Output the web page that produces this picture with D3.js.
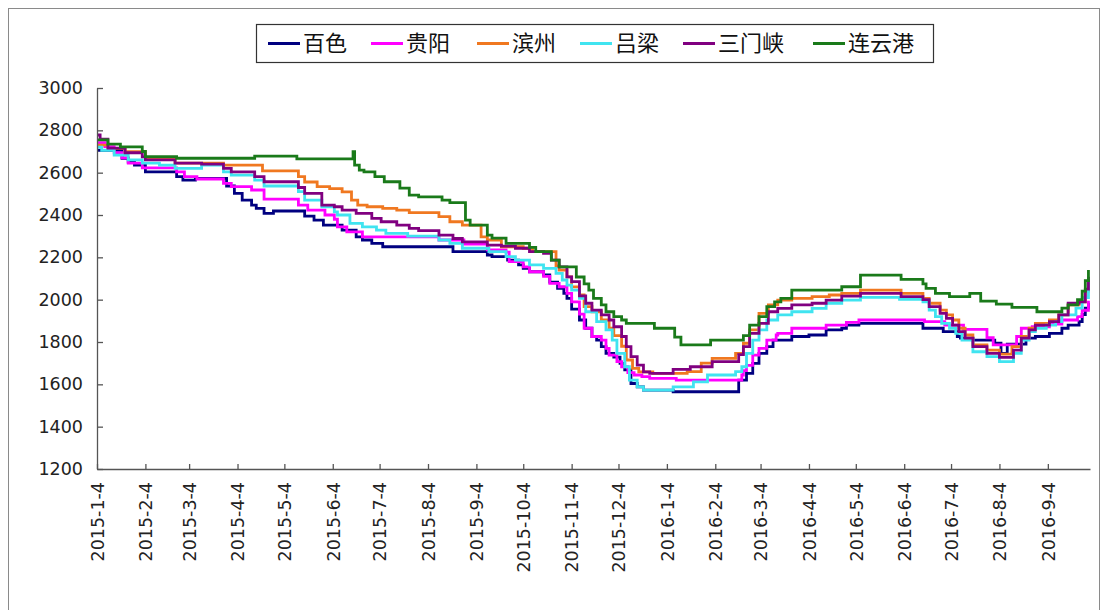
<!DOCTYPE html>
<html><head><meta charset="utf-8">
<script src="https://cdn.jsdelivr.net/npm/d3@7"></script>
<style>
body{margin:0;background:#fff}
svg{display:block}
.tick text{font-family:"DejaVu Sans",sans-serif;font-size:17.5px;fill:#222}
.legend text{font-family:"Noto Sans CJK SC",sans-serif;font-size:22px;fill:#111}
</style>
</head><body>
<svg id="chart" width="1108" height="610"></svg>
<script>
// ---- data ----
const seriesNames = ["百色","贵阳","滨州","吕梁","三门峡","连云港"];
const seriesColors = ["#000080","#FF00FF","#F07820","#40E4F0","#800080","#1A7A1A"];
const yTicks = [1200,1400,1600,1800,2000,2200,2400,2600,2800,3000];
const xTickLabels = ["2015-1-4","2015-2-4","2015-3-4","2015-4-4","2015-5-4","2015-6-4","2015-7-4","2015-8-4","2015-9-4","2015-10-4","2015-11-4","2015-12-4","2016-1-4","2016-2-4","2016-3-4","2016-4-4","2016-5-4","2016-6-4","2016-7-4","2016-8-4","2016-9-4"];
const xDomain = ["2015-01-04","2016-10-01"];

const baise = [["2015-01-04",2705],["2015-01-20",2668],["2015-01-24",2650],["2015-01-28",2636],["2015-02-04",2604],["2015-02-24",2581],["2015-02-28",2565],["2015-03-08",2573],["2015-03-28",2537],["2015-04-02",2502],["2015-04-07",2470],["2015-04-13",2447],["2015-04-16",2431],["2015-04-21",2408],["2015-04-27",2419],["2015-05-17",2395],["2015-05-23",2376],["2015-05-29",2352],["2015-06-10",2329],["2015-06-19",2297],["2015-06-23",2282],["2015-06-29",2266],["2015-07-06",2250],["2015-08-20",2227],["2015-09-11",2211],["2015-09-14",2203],["2015-09-24",2187],["2015-10-01",2164],["2015-10-04",2148],["2015-10-08",2132],["2015-10-17",2117],["2015-10-21",2083],["2015-10-26",2053],["2015-10-30",2030],["2015-11-01",2006],["2015-11-04",1955],["2015-11-09",1904],["2015-11-13",1865],["2015-11-17",1826],["2015-11-20",1809],["2015-11-23",1778],["2015-11-26",1746],["2015-12-01",1729],["2015-12-05",1699],["2015-12-08",1668],["2015-12-12",1604],["2015-12-16",1588],["2015-12-20",1573],["2016-01-08",1565],["2016-02-19",1620],["2016-02-24",1652],["2016-02-28",1699],["2016-03-03",1746],["2016-03-08",1778],["2016-03-12",1809],["2016-03-24",1826],["2016-04-04",1833],["2016-04-15",1857],["2016-04-25",1865],["2016-04-28",1880],["2016-05-06",1888],["2016-06-16",1865],["2016-06-29",1849],["2016-07-08",1826],["2016-07-10",1818],["2016-07-18",1809],["2016-08-01",1794],["2016-08-05",1746],["2016-08-09",1790],["2016-08-21",1818],["2016-08-27",1826],["2016-09-05",1841],["2016-09-13",1865],["2016-09-17",1880],["2016-09-24",1896],["2016-09-26",1930],["2016-09-28",1960],["2016-09-30",1985]];

const guiyang = [["2015-01-04",2742],["2015-01-09",2723],["2015-01-15",2694],["2015-01-20",2670],["2015-01-24",2645],["2015-02-02",2623],["2015-02-24",2604],["2015-03-01",2581],["2015-03-09",2570],["2015-03-26",2549],["2015-03-31",2534],["2015-04-13",2518],["2015-04-21",2475],["2015-05-13",2447],["2015-05-19",2423],["2015-05-30",2400],["2015-06-05",2380],["2015-06-07",2344],["2015-06-13",2320],["2015-06-23",2297],["2015-08-11",2282],["2015-08-27",2262],["2015-09-11",2235],["2015-09-23",2225],["2015-09-25",2180],["2015-10-04",2155],["2015-10-08",2132],["2015-10-17",2110],["2015-10-21",2077],["2015-10-27",2061],["2015-11-01",2030],["2015-11-04",1990],["2015-11-09",1932],["2015-11-12",1865],["2015-11-17",1826],["2015-11-23",1809],["2015-11-26",1770],["2015-11-28",1738],["2015-12-03",1707],["2015-12-06",1683],["2015-12-10",1655],["2015-12-14",1644],["2015-12-19",1636],["2015-12-24",1628],["2016-01-10",1620],["2016-02-21",1644],["2016-02-22",1665],["2016-02-24",1690],["2016-02-28",1738],["2016-03-03",1770],["2016-03-08",1809],["2016-03-14",1833],["2016-03-15",1841],["2016-03-24",1865],["2016-04-15",1880],["2016-04-28",1893],["2016-05-06",1904],["2016-06-17",1896],["2016-06-30",1880],["2016-07-12",1860],["2016-07-27",1820],["2016-07-31",1786],["2016-08-15",1826],["2016-08-18",1865],["2016-08-25",1872],["2016-09-05",1885],["2016-09-13",1904],["2016-09-23",1920],["2016-09-26",1950],["2016-09-30",1995]];

const binzhou = [["2015-01-04",2730],["2015-01-11",2715],["2015-01-22",2699],["2015-02-04",2668],["2015-02-23",2645],["2015-03-26",2636],["2015-04-20",2608],["2015-05-13",2581],["2015-05-17",2556],["2015-05-25",2534],["2015-06-02",2525],["2015-06-10",2509],["2015-06-16",2470],["2015-06-20",2447],["2015-06-26",2439],["2015-07-06",2431],["2015-07-15",2423],["2015-07-23",2411],["2015-08-11",2392],["2015-08-18",2368],["2015-08-26",2352],["2015-09-07",2297],["2015-09-11",2282],["2015-09-20",2250],["2015-10-04",2243],["2015-10-10",2227],["2015-10-25",2160],["2015-10-27",2140],["2015-11-01",2108],["2015-11-04",2060],["2015-11-09",2022],["2015-11-12",1967],["2015-11-17",1943],["2015-11-23",1904],["2015-11-28",1865],["2015-12-01",1830],["2015-12-06",1780],["2015-12-09",1715],["2015-12-13",1675],["2015-12-17",1659],["2015-12-26",1652],["2016-01-17",1660],["2016-01-26",1700],["2016-02-02",1723],["2016-02-17",1746],["2016-02-22",1794],["2016-02-26",1857],["2016-03-03",1935],["2016-03-09",1975],["2016-03-15",1998],["2016-03-24",2006],["2016-04-06",2014],["2016-04-17",2022],["2016-04-25",2030],["2016-05-07",2045],["2016-06-02",2030],["2016-06-16",2006],["2016-06-20",1983],["2016-06-27",1951],["2016-07-01",1928],["2016-07-05",1904],["2016-07-09",1865],["2016-07-13",1833],["2016-07-18",1786],["2016-07-27",1762],["2016-08-04",1743],["2016-08-12",1778],["2016-08-18",1826],["2016-08-23",1865],["2016-08-27",1888],["2016-09-05",1904],["2016-09-11",1928],["2016-09-17",1975],["2016-09-24",1990],["2016-09-28",2040],["2016-09-30",2090]];

const lvliang = [["2015-01-04",2720],["2015-01-07",2706],["2015-01-15",2683],["2015-01-24",2660],["2015-02-02",2645],["2015-02-13",2636],["2015-02-23",2620],["2015-03-12",2636],["2015-03-26",2604],["2015-03-31",2588],["2015-04-15",2565],["2015-04-21",2537],["2015-05-13",2510],["2015-05-17",2470],["2015-05-28",2439],["2015-06-05",2415],["2015-06-07",2400],["2015-06-15",2360],["2015-06-23",2344],["2015-07-02",2329],["2015-07-08",2313],["2015-07-22",2300],["2015-08-11",2282],["2015-08-18",2266],["2015-08-26",2243],["2015-09-12",2227],["2015-09-23",2203],["2015-09-29",2187],["2015-10-08",2164],["2015-10-17",2148],["2015-10-25",2124],["2015-10-29",2093],["2015-11-01",2069],["2015-11-04",2045],["2015-11-09",2006],["2015-11-13",1943],["2015-11-20",1896],["2015-11-26",1857],["2015-11-30",1809],["2015-12-03",1746],["2015-12-08",1683],["2015-12-11",1620],["2015-12-16",1588],["2015-12-20",1573],["2016-01-08",1588],["2016-01-21",1612],["2016-01-30",1644],["2016-02-17",1660],["2016-02-21",1683],["2016-02-24",1746],["2016-02-28",1809],["2016-03-03",1857],["2016-03-08",1904],["2016-03-15",1928],["2016-03-24",1943],["2016-04-06",1959],["2016-04-15",1983],["2016-04-25",1998],["2016-05-07",2011],["2016-06-01",2002],["2016-06-16",1990],["2016-06-20",1951],["2016-06-24",1920],["2016-06-28",1888],["2016-07-03",1865],["2016-07-07",1841],["2016-07-11",1809],["2016-07-18",1754],["2016-07-27",1731],["2016-08-04",1707],["2016-08-13",1746],["2016-08-18",1809],["2016-08-23",1849],["2016-08-27",1865],["2016-09-03",1880],["2016-09-09",1896],["2016-09-13",1928],["2016-09-22",1960],["2016-09-26",2010],["2016-09-30",2093]];

const sanmenxia = [["2015-01-04",2778],["2015-01-06",2758],["2015-01-11",2716],["2015-01-22",2694],["2015-02-02",2675],["2015-02-04",2660],["2015-02-23",2645],["2015-03-12",2640],["2015-03-26",2620],["2015-03-31",2604],["2015-04-15",2581],["2015-04-21",2557],["2015-05-13",2530],["2015-05-17",2502],["2015-05-28",2447],["2015-06-05",2439],["2015-06-10",2423],["2015-06-19",2408],["2015-06-29",2384],["2015-07-05",2368],["2015-07-15",2352],["2015-07-23",2337],["2015-07-29",2326],["2015-08-11",2305],["2015-08-20",2289],["2015-08-26",2273],["2015-09-11",2258],["2015-09-20",2253],["2015-09-29",2243],["2015-10-08",2227],["2015-10-17",2219],["2015-10-22",2187],["2015-10-27",2155],["2015-11-01",2108],["2015-11-04",2085],["2015-11-09",2018],["2015-11-13",1983],["2015-11-17",1951],["2015-11-23",1928],["2015-11-28",1904],["2015-12-01",1872],["2015-12-06",1826],["2015-12-09",1778],["2015-12-12",1731],["2015-12-16",1691],["2015-12-20",1659],["2015-12-24",1652],["2016-01-08",1671],["2016-01-19",1683],["2016-02-02",1707],["2016-02-19",1740],["2016-02-22",1778],["2016-02-26",1841],["2016-03-03",1888],["2016-03-09",1943],["2016-03-15",1959],["2016-03-24",1975],["2016-04-06",1983],["2016-04-15",1998],["2016-04-25",2017],["2016-05-07",2030],["2016-06-02",2014],["2016-06-16",2000],["2016-06-20",1967],["2016-06-27",1935],["2016-07-01",1912],["2016-07-05",1880],["2016-07-09",1849],["2016-07-13",1818],["2016-07-18",1778],["2016-07-27",1746],["2016-08-04",1727],["2016-08-13",1762],["2016-08-18",1818],["2016-08-23",1857],["2016-08-27",1880],["2016-09-05",1896],["2016-09-11",1928],["2016-09-17",1983],["2016-09-24",1990],["2016-09-28",2050],["2016-09-30",2108]];

const lianyungang = [["2015-01-04",2755],["2015-01-11",2735],["2015-01-19",2722],["2015-02-02",2700],["2015-02-04",2676],["2015-02-24",2668],["2015-04-15",2678],["2015-05-12",2665],["2015-06-17",2699],["2015-06-18",2636],["2015-06-21",2612],["2015-06-24",2604],["2015-07-01",2581],["2015-07-07",2557],["2015-07-17",2527],["2015-07-23",2494],["2015-07-29",2486],["2015-08-13",2470],["2015-08-18",2458],["2015-08-28",2376],["2015-08-31",2352],["2015-09-11",2305],["2015-09-14",2291],["2015-09-23",2266],["2015-10-08",2247],["2015-10-12",2227],["2015-10-22",2187],["2015-10-27",2155],["2015-11-07",2107],["2015-11-12",2075],["2015-11-15",2045],["2015-11-18",2006],["2015-11-23",1975],["2015-11-26",1943],["2015-12-01",1920],["2015-12-06",1904],["2015-12-09",1888],["2015-12-27",1865],["2016-01-09",1823],["2016-01-13",1786],["2016-02-01",1809],["2016-02-22",1830],["2016-02-26",1880],["2016-03-03",1920],["2016-03-08",1967],["2016-03-13",1990],["2016-03-17",2006],["2016-03-24",2045],["2016-04-25",2061],["2016-05-07",2116],["2016-06-02",2096],["2016-06-16",2075],["2016-06-18",2053],["2016-06-24",2030],["2016-07-03",2014],["2016-07-16",2030],["2016-07-23",1993],["2016-08-02",1979],["2016-08-12",1964],["2016-08-28",1943],["2016-09-13",1960],["2016-09-17",1975],["2016-09-23",2000],["2016-09-26",2040],["2016-09-28",2090],["2016-09-30",2140]];

const seriesData = [baise, guiyang, binzhou, lvliang, sanmenxia, lianyungang];

// ---- drawing ----
const parse = d3.timeParse("%Y-%m-%d");
const svg = d3.select("#chart");

// outer frame
svg.append("rect").attr("x",8.5).attr("y",8.5).attr("width",1091).attr("height",640)
  .attr("fill","#fff").attr("stroke","#8a8a8a").attr("stroke-width",1);

const plot = {left:97, right:1090, top:88, bottom:469};
const x = d3.scaleTime().domain(xDomain.map(parse)).range([plot.left, plot.right]);
const y = d3.scaleLinear().domain([1200,3000]).range([plot.bottom, plot.top]);

// lines
const line = d3.line().x(d=>x(parse(d[0]))).y(d=>y(d[1])).curve(d3.curveStepAfter);
svg.append("g").selectAll("path").data(seriesData).join("path")
  .attr("d", d=>line(d)).attr("fill","none")
  .attr("stroke",(d,i)=>seriesColors[i]).attr("stroke-width",2.8)
  .attr("stroke-linejoin","miter");

// y axis
const yAxis = svg.append("g").attr("transform",`translate(${plot.left},0)`)
  .call(d3.axisLeft(y).tickValues(yTicks).tickSize(-6).tickSizeOuter(0).tickPadding(14).tickFormat(d3.format("d")));
yAxis.select(".domain").attr("stroke","#555").attr("stroke-width",1.3);
yAxis.selectAll(".tick line").attr("stroke","#555").attr("stroke-width",1.3);

// x axis
const xTickDates = xTickLabels.map(s=>{const p=s.split("-");return new Date(+p[0],+p[1]-1,+p[2]);});
const xAxis = svg.append("g").attr("transform",`translate(0,${plot.bottom})`)
  .call(d3.axisBottom(x).tickValues(xTickDates).tickSize(-5).tickSizeOuter(0)
    .tickFormat((d,i)=>xTickLabels[i]));
xAxis.select(".domain").attr("stroke","#555").attr("stroke-width",1.3);
xAxis.selectAll(".tick line").attr("stroke","#555").attr("stroke-width",1.3);
xAxis.selectAll(".tick text").attr("transform","rotate(-90)")
  .attr("x",-13).attr("y",0).attr("dy","0.36em").style("text-anchor","end");

// legend
const lg = svg.append("g").attr("class","legend");
lg.append("rect").attr("x",256.5).attr("y",24.5).attr("width",677).attr("height",38)
  .attr("fill","#fff").attr("stroke","#333").attr("stroke-width",1.2);
const legendTextX = [303, 406, 512, 615, 718, 848];
const items = lg.selectAll("g.item").data(seriesNames).join("g").attr("class","item")
  .attr("transform",(d,i)=>`translate(${legendTextX[i]},43.5)`);
items.append("line").attr("x1",-35).attr("x2",-3).attr("y1",0).attr("y2",0)
  .attr("stroke",(d,i)=>seriesColors[i]).attr("stroke-width",3);
items.append("text").attr("x",0).attr("y",0).attr("dy","0.36em").text(d=>d);
</script>
</body></html>
